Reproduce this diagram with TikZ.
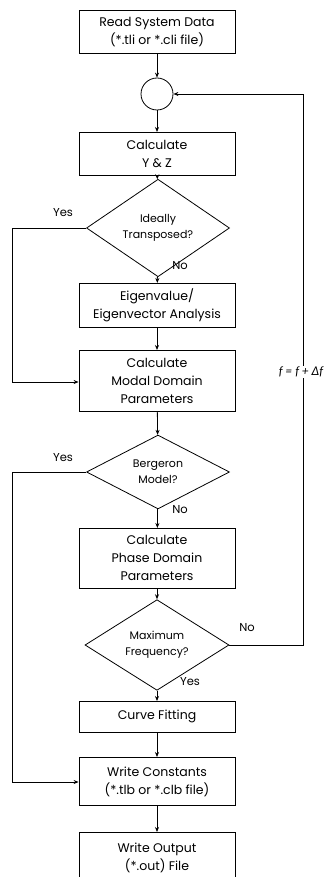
\documentclass[tikz,border=0pt]{standalone}
\usepackage{fontspec}
\setmainfont{Poppins}
\newfontfamily\latofont{Lato}
\usetikzlibrary{shapes.geometric,arrows.meta}
\begin{document}
\begin{tikzpicture}[x=1pt,y=-1pt,
  every node/.style={font=\fontsize{12.5}{18}\selectfont},
  box/.style={draw,line width=0.8pt,minimum width=156pt,inner sep=0pt,align=center,anchor=north},
  dec/.style={draw,diamond,line width=0.8pt,minimum width=143pt,minimum height=65pt,inner sep=0pt,align=center,font=\fontsize{11}{16}\selectfont},
  lbl/.style={font=\fontsize{11.5}{13}\selectfont,inner sep=0pt},
  conn/.style={line width=0.8pt,-{Stealth[length=5pt,width=4pt]}},
  line/.style={line width=0.8pt}]
\clip (0,0) rectangle (332,877);
\fill[white] (0,0) rectangle (332,877);
\node[box,minimum height=43pt] (b1) at (157,10) {Read System Data\\(*.tli or *.cli file)};
\node[draw,circle,line width=0.8pt,minimum size=32pt,inner sep=0pt] (c) at (157,94) {};
\node[box,minimum height=43pt] (b2) at (157,132) {Calculate\\Y \& Z};
\node[dec] (d1) at (158,228) {Ideally\\Transposed?};
\node[box,minimum height=44pt] (b3) at (157,283) {Eigenvalue/\\Eigenvector Analysis};
\node[box,minimum height=61pt] (b4) at (157,350) {Calculate\\Modal Domain\\Parameters};
\node[dec] (d2) at (158,472) {Bergeron\\Model?};
\node[box,minimum height=60pt] (b5) at (157,528) {Calculate\\Phase Domain\\Parameters};
\node[dec,minimum width=144pt] (d3) at (157,645) {Maximum\\Frequency?};
\node[box,minimum height=31pt] (b6) at (157,701) {Curve Fitting};
\node[box,minimum height=48pt] (b7) at (157,757) {Write Constants\\(*.tlb or *.clb file)};
\node[box,minimum height=50pt] (b8) at (157,832) {Write Output\\(*.out) File};
\coordinate (l1a) at (12,228);
\coordinate (l1b) at (12,382);
\coordinate (l2a) at (12,472);
\coordinate (l2b) at (12,782);
\coordinate (r1) at (303,645);
\coordinate (r2) at (303,94);
\draw[conn] (b1) -- (c);
\draw[conn] (c) -- (b2);
\draw[conn] (b2) -- (d1);
\draw[conn] (d1) -- (b3);
\draw[conn] (b3) -- (b4);
\draw[conn] (b4) -- (d2);
\draw[conn] (d2) -- (b5);
\draw[conn] (b5) -- (d3);
\draw[conn] (d3) -- (b6);
\draw[conn] (b6) -- (b7);
\draw[conn] (b7) -- (b8);
\draw[conn] (d1.west) -- (l1a) -- (l1b) -- (b4.west |- l1b);
\draw[conn] (d2.west) -- (l2a) -- (l2b) -- (b7.west |- l2b);
\draw[conn] (d3.east) -- (r1) -- (r2) -- (c.east);
\node[fill=white,inner sep=1pt,font=\latofont\itshape\fontsize{12}{14}\selectfont] (inc) at (301,372) {f = f + Δf};
\node[lbl] (y1) at (63,213) {Yes};
\node[lbl] (n1) at (180,266) {No};
\node[lbl] (y2) at (63,458) {Yes};
\node[lbl] (n2) at (180,510) {No};
\node[lbl] (n3) at (247,628) {No};
\node[lbl] (y3) at (190,682) {Yes};
\end{tikzpicture}
\end{document}
